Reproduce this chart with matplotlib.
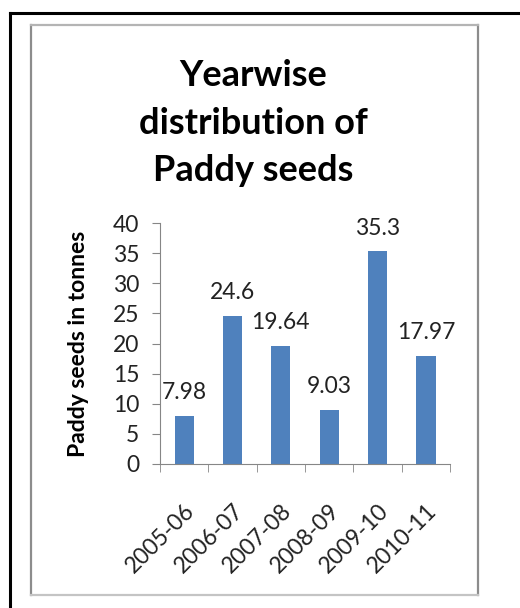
import matplotlib.pyplot as plt
from matplotlib.lines import Line2D

# Yearwise distribution of paddy seeds (tonnes)

years = ["2005-06", "2006-07", "2007-08", "2008-09", "2009-10", "2010-11"]
seeds = [7.98, 24.6, 19.64, 9.03, 35.3, 17.97]
y_ticks = [0, 5, 10, 15, 20, 25, 30, 35, 40]

plt.rcParams['font.family'] = ['Lato', 'DejaVu Sans']

W, H = 520, 608
fig = plt.figure(figsize=(W / 100, H / 100), dpi=100)


def px(x, y):
    # pixel coords (top-left origin) -> figure fraction
    return x / W, 1 - y / H


# outer black frame (only left and top are visible)
for (x0, y0), (x1, y1) in [((10, 13), (10, 610)), ((10, 13), (522, 13))]:
    a, b = px(x0, y0)
    c, d = px(x1, y1)
    fig.add_artist(Line2D([a, c], [b, d], color='black', lw=2.2,
                          transform=fig.transFigure))

# grey chart-area box
edges = [((31, 25), (31, 595), '#8c8c8c'), ((478, 25), (478, 595), '#8c8c8c'),
         ((31, 25), (478, 25), '#b4b4b4'), ((31, 595), (478, 595), '#c4c4c4')]
for (x0, y0), (x1, y1), col in edges:
    a, b = px(x0, y0)
    c, d = px(x1, y1)
    fig.add_artist(Line2D([a, c], [b, d], color=col, lw=1.6,
                          transform=fig.transFigure))

left, top = px(160, 223)
right, bottom = px(450, 464)
ax = fig.add_axes([left, bottom, right - left, top - bottom])

x = list(range(len(years)))
bars = ax.bar(x, seeds, width=0.4, color='#4f81bd')

for xi, v in zip(x, seeds):
    ax.annotate(f"{v:g}", (xi, v), xytext=(0, 9), textcoords='offset points',
                ha='center', va='bottom', fontsize=16.5, color='#222222')

ax.set_xlim(-0.5, len(years) - 0.5)
ax.set_ylim(0, 40)
ax.set_yticks(y_ticks)
ax.tick_params(axis='y', labelsize=16.5, length=6, color='#868686',
               labelcolor='#222222', pad=9)

ax.set_xticks(x)
ax.set_xticklabels(years, rotation=45, ha='right', va='top',
                   rotation_mode='anchor', fontsize=16.5, color='#222222')
ax.tick_params(axis='x', which='major', length=0, pad=26)
ax.set_xticks([i - 0.5 for i in range(len(years) + 1)], minor=True)
ax.tick_params(axis='x', which='minor', length=6, color='#868686')

for s in ['top', 'right']:
    ax.spines[s].set_visible(False)
for s in ['left', 'bottom']:
    ax.spines[s].set_color('#868686')

ax.set_ylabel("Paddy seeds in tonnes", fontsize=16.5, fontweight='bold',
              labelpad=17)

tx, ty = px(253, 123)
fig.text(tx, ty, "Yearwise\ndistribution of\nPaddy seeds", ha='center',
         va='center', fontsize=26, fontweight='bold', linespacing=1.55)

fig.savefig("out.png", dpi=100)
